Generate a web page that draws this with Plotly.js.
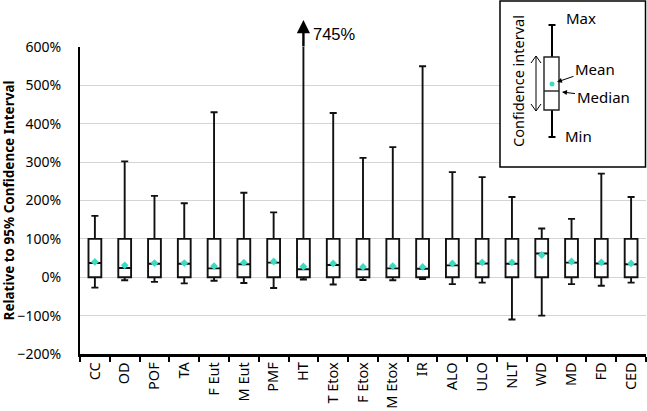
<!DOCTYPE html>
<html>
<head>
<meta charset="utf-8">
<script src="https://cdn.plot.ly/plotly-3.0.1.min.js"></script>
<style>
  html, body { margin: 0; padding: 0; background: #fff; }
  #plot { width: 647px; height: 411px; }
</style>
</head>
<body>
<div id="plot"></div>
<script>
// ----- Datos (% relativo al intervalo de confianza 95%) -----
const categories = ['CC', 'OD', 'POF', 'TA', 'F Eut', 'M Eut', 'PMF', 'HT', 'T Etox', 'F Etox',
  'M Etox', 'IR', 'ALO', 'ULO', 'NLT', 'WD', 'MD', 'FD', 'CED'];
const maxVals = [160, 302, 212, 193, 430, 220, 169, 745, 428, 311, 339, 550, 274, 261, 209, 127, 152, 270, 209];
const minVals = [-27, -8, -12, -16, -9, -15, -28, -6, -19, -7, -8, -5, -18, -14, -110, -100, -18, -22, -14];
const meanVals = [40, 31, 37, 37, 29, 38, 41, 28, 36, 27, 29, 27, 36, 39, 39, 58, 41, 39, 36];
const medianVals = [37, 24, 35, 35, 23, 34, 38, 21, 32, 21, 23, 22, 31, 36, 35, 62, 38, 36, 34];
const ciLow = categories.map(() => 0);
const ciHigh = categories.map(() => 100);

const yMin = -200, yMax = 600;
const meanColor = '#3ddcc2';
const font = 'Noto Sans, Open Sans, sans-serif';

// Márgenes (px) -> helpers para la leyenda dibujada a mano
const M = { l: 80, r: 1, t: 47, b: 57, autoexpand: false };
const W = 647, H = 411;
const X = (px) => (px - M.l) / (W - M.l - M.r);
const Y = (py) => (H - M.b - py) / (H - M.t - M.b);

const boxTrace = {
  type: 'box',
  x: categories,
  q1: ciLow,
  q3: ciHigh,
  median: medianVals,
  lowerfence: minVals,
  upperfence: maxVals,
  boxpoints: false,
  width: 0.43,
  whiskerwidth: 0.55,
  fillcolor: '#ffffff',
  line: { color: '#111', width: 1.9 },
  hoverinfo: 'skip',
  showlegend: false
};

const meanTrace = {
  type: 'scatter',
  mode: 'markers',
  x: categories,
  y: meanVals,
  marker: { symbol: 'diamond', size: 6, color: meanColor },
  showlegend: false,
  hoverinfo: 'skip'
};

// Valores fuera de escala -> flecha + etiqueta (en coordenadas de papel, fuera del rango)
const annotations = [];
const catX = (i) => (i + 0.5) / categories.length;
maxVals.forEach((v, i) => {
  if (v > yMax) {
    annotations.push({
      x: catX(i), y: Y(20), xref: 'paper', yref: 'paper',
      ax: 0, ay: 28, text: '', showarrow: true,
      arrowhead: 2, arrowsize: 1.1, arrowwidth: 2.4, arrowcolor: '#000'
    });
    annotations.push({
      x: catX(i), y: Y(34), xref: 'paper', yref: 'paper', xanchor: 'left', yanchor: 'middle', xshift: 8,
      text: `${v}%`, showarrow: false,
      font: { family: 'Liberation Sans, Arial, sans-serif', size: 16.5, color: '#000' }
    });
  }
});

// ----- Leyenda explicativa (caja) -----
const lx = 552; // eje del mini-boxplot
const shapes = [
  { type: 'rect', xref: 'paper', yref: 'paper', x0: X(500), x1: X(645.5), y0: Y(167), y1: Y(1),
    line: { color: '#000', width: 1.5 }, fillcolor: '#fff', layer: 'above' },
  { type: 'line', xref: 'paper', yref: 'paper', x0: X(lx), x1: X(lx), y0: Y(25), y1: Y(57),
    line: { color: '#000', width: 2 }, layer: 'above' },
  { type: 'line', xref: 'paper', yref: 'paper', x0: X(lx), x1: X(lx), y0: Y(110), y1: Y(137),
    line: { color: '#000', width: 2 }, layer: 'above' },
  { type: 'line', xref: 'paper', yref: 'paper', x0: X(lx - 3.5), x1: X(lx + 3.5), y0: Y(25), y1: Y(25),
    line: { color: '#000', width: 2 }, layer: 'above' },
  { type: 'line', xref: 'paper', yref: 'paper', x0: X(lx - 3.5), x1: X(lx + 3.5), y0: Y(137), y1: Y(137),
    line: { color: '#000', width: 2 }, layer: 'above' },
  { type: 'rect', xref: 'paper', yref: 'paper', x0: X(544), x1: X(559), y0: Y(110), y1: Y(57),
    line: { color: '#222', width: 1.4 }, fillcolor: '#fff', layer: 'above' },
  { type: 'line', xref: 'paper', yref: 'paper', x0: X(544), x1: X(559), y0: Y(91), y1: Y(91),
    line: { color: '#222', width: 1.4 }, layer: 'above' },
  { type: 'circle', xref: 'paper', yref: 'paper', x0: X(lx - 2.5), x1: X(lx + 2.5), y0: Y(86.5), y1: Y(81.5),
    line: { color: meanColor, width: 0 }, fillcolor: meanColor, layer: 'above' },
  // flecha doble del intervalo de confianza
  { type: 'path', xref: 'paper', yref: 'paper', layer: 'above', line: { color: '#000', width: 1 },
    path: `M${X(536)},${Y(56)} L${X(536)},${Y(111)} ` +
      `M${X(531)},${Y(63)} L${X(536)},${Y(56)} L${X(541)},${Y(63)} ` +
      `M${X(531)},${Y(104)} L${X(536)},${Y(111)} L${X(541)},${Y(104)}` }
];

const legFont = { family: font, size: 15, color: '#000' };
const mid = { xanchor: 'center', yanchor: 'middle' };
annotations.push(
  { xref: 'paper', yref: 'paper', x: X(581), y: Y(18), text: 'Max', showarrow: false, font: legFont, ...mid },
  { xref: 'paper', yref: 'paper', x: X(578), y: Y(136), text: 'Min', showarrow: false, font: legFont, ...mid },
  { xref: 'paper', yref: 'paper', x: X(518), y: Y(81), text: 'Confidence interval', textangle: -90,
    showarrow: false, font: { family: font, size: 14.5, color: '#000' }, ...mid },
  { xref: 'paper', yref: 'paper', x: X(557), y: Y(82), ax: 38, ay: -13, text: 'Mean',
    showarrow: true, arrowhead: 2, arrowsize: 1, arrowwidth: 1, arrowcolor: '#000', font: legFont },
  { xref: 'paper', yref: 'paper', x: X(562), y: Y(92), ax: 41, ay: 5, text: 'Median',
    showarrow: true, arrowhead: 2, arrowsize: 1, arrowwidth: 1, arrowcolor: '#000', font: legFont }
);

const layout = {
  width: W, height: H,
  margin: M,
  paper_bgcolor: '#fff', plot_bgcolor: '#fff',
  font: { family: font, size: 14, color: '#000' },
  showlegend: false,
  xaxis: {
    type: 'category',
    range: [-0.5, categories.length - 0.5],
    automargin: false,
    tickangle: -90,
    showline: true, linecolor: '#000', linewidth: 2.5,
    ticks: 'outside', tickson: 'boundaries', ticklen: 5, tickwidth: 2, tickcolor: '#000',
    showgrid: false,
    tickfont: { family: font, size: 14.5, color: '#000' }
  },
  yaxis: {
    range: [yMin, yMax],
    automargin: false,
    dtick: 100,
    ticksuffix: '%',
    showline: true, linecolor: '#000', linewidth: 2,
    showgrid: true, gridcolor: '#d4d4d4', gridwidth: 1,
    zeroline: false,
    ticks: '', ticklabelstandoff: 14,
    tickfont: { family: font, size: 14, color: '#000' },
    title: { text: 'Relative to 95% Confidence Interval', standoff: 3,
      font: { family: font, size: 13.5, color: '#000', weight: 'bold' } }
  },
  shapes,
  annotations
};

Plotly.newPlot('plot', [boxTrace, meanTrace], layout, { displayModeBar: false, staticPlot: true });
</script>
</body>
</html>
